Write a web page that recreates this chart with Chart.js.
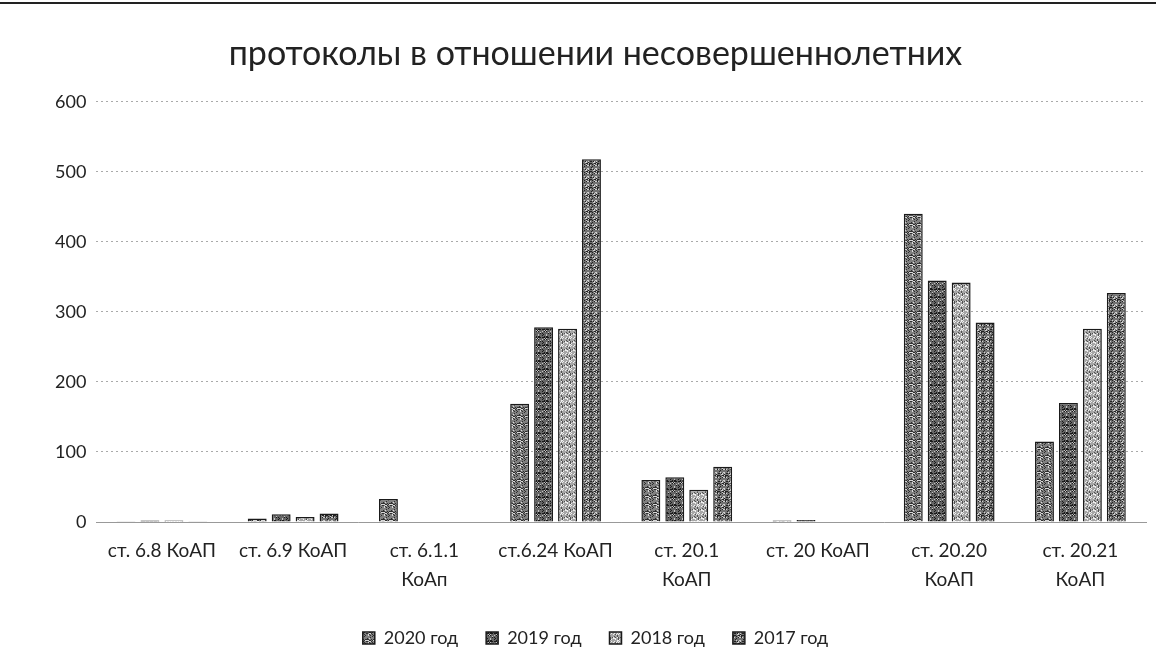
<!DOCTYPE html>
<html><head><meta charset="utf-8">
<script src="https://cdn.jsdelivr.net/npm/chart.js@4"></script>
<style>
html,body{margin:0;padding:0;background:#fff;}
#wrap{position:relative;width:1156px;height:667px;}
#top{position:absolute;left:0;top:2px;width:1156px;height:0;border-top:2px solid #222;}
</style></head>
<body><div id="wrap"><div id="top"></div><canvas id="c" width="1156" height="667"></canvas></div>
<script>
const categories = [
  "ст. 6.8 КоАП",
  "ст. 6.9 КоАП",
  ["ст. 6.1.1", "КоАп"],
  "ст.6.24 КоАП",
  ["ст. 20.1", "КоАП"],
  "ст. 20 КоАП",
  ["ст. 20.20", "КоАП"],
  ["ст. 20.21", "КоАП"]
];
const seriesNames = ["2020 год", "2019 год", "2018 год", "2017 год"];
const values2020 = [1, 5, 33, 169, 60, 2, 440, 115];
const values2019 = [2, 11, 0, 278, 64, 3, 345, 170];
const values2018 = [2, 7, 0, 276, 46, 0, 342, 276];
const values2017 = [1, 12, 0, 518, 79, 0, 285, 327];
const yTicks = [0, 100, 200, 300, 400, 500, 600];

function texture(base, dark, light, seed){
  const c = document.createElement('canvas');
  c.width = 8; c.height = 8;
  const g = c.getContext('2d');
  g.fillStyle = base; g.fillRect(0,0,8,8);
  let s = seed;
  for(let y=0;y<8;y++){for(let x=0;x<8;x++){
    s = (s*1103515245 + 12345) & 0x7fffffff;
    const r = s % 5;
    if(r===0){g.fillStyle=dark;g.fillRect(x,y,1,1);}
    else if(r===1){g.fillStyle=light;g.fillRect(x,y,1,1);}
  }}
  return g.createPattern(c,'repeat');
}
const ctx = document.getElementById('c').getContext('2d');
const fills = [
  texture('#808080','#2e2e2e','#d8d8d8',7),
  texture('#666','#1a1a1a','#c4c4c4',11),
  texture('#a6a6a6','#505050','#eeeeee',13),
  texture('#727272','#222','#cecece',17)
];
const allValues = [values2020, values2019, values2018, values2017];
const FONT = "Lato, 'Noto Sans', sans-serif";

new Chart(ctx, {
  type: 'bar',
  data: {
    labels: categories,
    datasets: seriesNames.map((n,i)=>({
      label: n,
      data: allValues[i],
      backgroundColor: fills[i],
      borderColor: '#1a1a1a',
      borderWidth: 1.5,
      borderSkipped: 'bottom',
      categoryPercentage: 0.73,
      barPercentage: 0.79
    }))
  },
  options: {
    responsive: false,
    animation: false,
    layout: { padding: { left: 45, right: 10, top: 18, bottom: 10 } },
    plugins: {
      title: {
        display: true,
        text: 'протоколы в отношении несовершеннолетних',
        color: '#222',
        font: { family: FONT, size: 34, weight: 'normal' },
        padding: { top: 16, bottom: 27 }
      },
      legend: {
        position: 'bottom',
        labels: {
          color: '#222',
          font: { family: FONT, size: 18 },
          boxWidth: 12, boxHeight: 12,
          padding: 28
        }
      },
      tooltip: { enabled: false }
    },
    scales: {
      x: {
        grid: { display: false, drawTicks: false },
        border: { display: true, color: '#999', width: 1 },
        ticks: { color: '#222', font: { family: FONT, size: 19, lineHeight: 1.55 }, maxRotation: 0, autoSkip: false, padding: 14 },
        afterFit: (scale) => { scale.height = 79; }
      },
      y: {
        min: 0, max: 600,
        afterBuildTicks: (axis) => { axis.ticks = yTicks.map(v => ({ value: v })); },
        grid: { color: '#aaa', lineWidth: 1, drawTicks: false },
        border: { display: false, dash: [2, 3] },
        ticks: { color: '#222', font: { family: FONT, size: 18 }, padding: 10 }
      }
    }
  }
});
</script></body></html>
